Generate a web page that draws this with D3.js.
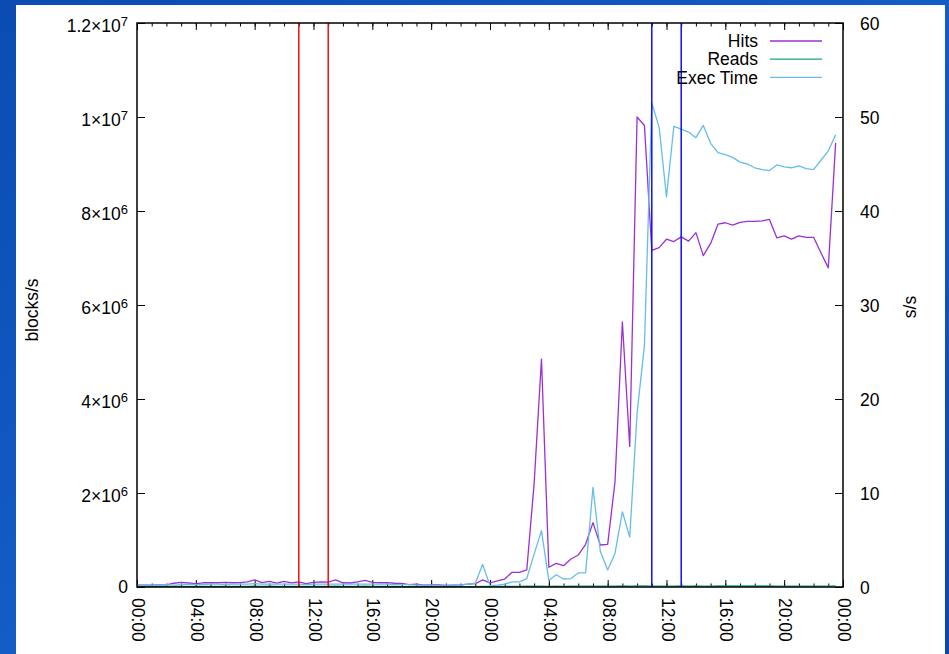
<!DOCTYPE html>
<meta charset="utf-8">
<style>
body { margin: 0; }
text { font-family: "Liberation Sans", Arial, sans-serif; fill: #000; }
.series { fill: none; stroke-width: 1.3px; stroke-linejoin: round; }
</style>
<svg width="949" height="654"></svg>
<script src="https://cdn.jsdelivr.net/npm/d3@7"></script>
<script>

// samples every 30 minutes over two days, starting 00:00
var stepMinutes = 30;

// Hits, blocks/s
var hits = [
  40e3, 40e3, 40e3, 45e3, 45e3, 80e3, 100e3, 85e3, 70e3, 90e3, 95e3, 90e3,
  100e3, 90e3, 95e3, 110e3, 150e3, 95e3, 120e3, 80e3, 120e3, 90e3, 110e3, 70e3,
  100e3, 110e3, 105e3, 150e3, 90e3, 85e3, 110e3, 140e3, 100e3, 90e3, 95e3, 80e3,
  75e3, 50e3, 60e3, 40e3, 45e3, 50e3, 30e3, 40e3, 45e3, 60e3, 70e3, 150e3,
  90e3, 128e3, 170e3, 313e3, 313e3, 362e3, 2.2e6, 4.85e6, 420e3, 504e3, 453e3, 596e3,
  680e3, 908e3, 1.37e6, 894e3, 908e3, 2.24e6, 5.64e6, 2.99e6, 1.0e7, 9.82e6, 7.16e6, 7.22e6,
  7.40e6, 7.35e6, 7.45e6, 7.36e6, 7.54e6, 7.05e6, 7.31e6, 7.72e6, 7.75e6, 7.70e6, 7.76e6, 7.78e6,
  7.78e6, 7.79e6, 7.82e6, 7.43e6, 7.47e6, 7.40e6, 7.47e6, 7.44e6, 7.44e6, 7.11e6, 6.79e6, 9.45e6
];

// Reads, blocks/s (stays on the baseline)
var reads = [
  12e3, 10e3, 11e3, 10e3, 12e3, 14e3, 15e3, 13e3, 12e3, 14e3, 15e3, 14e3,
  15e3, 14e3, 13e3, 15e3, 18e3, 14e3, 16e3, 12e3, 15e3, 13e3, 14e3, 11e3,
  13e3, 14e3, 14e3, 17e3, 13e3, 12e3, 14e3, 16e3, 13e3, 12e3, 12e3, 11e3,
  10e3, 9e3, 9e3, 8e3, 8e3, 9e3, 7e3, 8e3, 8e3, 9e3, 10e3, 15e3,
  11e3, 12e3, 13e3, 15e3, 15e3, 16e3, 18e3, 20e3, 15e3, 16e3, 15e3, 16e3,
  17e3, 18e3, 20e3, 17e3, 17e3, 19e3, 21e3, 18e3, 22e3, 22e3, 20e3, 20e3,
  20e3, 20e3, 21e3, 20e3, 21e3, 19e3, 20e3, 21e3, 21e3, 21e3, 21e3, 21e3,
  21e3, 21e3, 21e3, 20e3, 20e3, 20e3, 20e3, 20e3, 20e3, 19e3, 19e3, 22e3
];

// Exec Time, s/s (right axis)
var execTime = [
  0.2, 0.2, 0.2, 0.2, 0.25, 0.2, 0.25, 0.3, 0.25, 0.25, 0.3, 0.3,
  0.25, 0.3, 0.3, 0.3, 0.35, 0.3, 0.3, 0.3, 0.3, 0.3, 0.3, 0.25,
  0.3, 0.3, 0.3, 0.3, 0.3, 0.3, 0.3, 0.3, 0.3, 0.3, 0.3, 0.25,
  0.25, 0.25, 0.2, 0.2, 0.2, 0.2, 0.2, 0.2, 0.2, 0.3, 0.4, 2.4,
  0.15, 0.2, 0.3, 0.55, 0.55, 0.9, 3.5, 6.0, 0.7, 1.3, 0.85, 0.9,
  1.5, 1.5, 10.6, 3.8, 1.8, 3.6, 8.0, 5.3, 18.5, 25.7, 51.5, 48.9,
  41.5, 49.0, 48.7, 48.4, 47.8, 49.1, 47.2, 46.2, 46.0, 45.7, 45.2, 45.0,
  44.6, 44.4, 44.3, 44.9, 44.7, 44.6, 44.8, 44.5, 44.4, 45.4, 46.4, 48.1
];

// vertical marker lines, hours from start
var redMarks = [11, 13];
var blueMarks = [35, 37];

var yTicks = [0, 2e6, 4e6, 6e6, 8e6, 1e7, 1.2e7];
var y2Ticks = [0, 10, 20, 30, 40, 50, 60];

var seriesNames = ["Hits", "Reads", "Exec Time"];
var seriesColors = ["#9b30d6", "#14a57e", "#66bde8"];

var svg = d3.select("svg"),
    width = +svg.attr("width"),
    height = +svg.attr("height");

var margin = {left: 137, right: 843, top: 23, bottom: 587};
var fontSize = 17.5;

// slide background
var grad = svg.append("defs").append("linearGradient")
    .attr("id", "bg")
    .attr("x1", 0).attr("y1", 0).attr("x2", 1).attr("y2", 1);
grad.append("stop").attr("offset", 0).attr("stop-color", "#0a4cb2");
grad.append("stop").attr("offset", 0.5).attr("stop-color", "#135dc6");
grad.append("stop").attr("offset", 1).attr("stop-color", "#0a48aa");

svg.append("rect")
    .attr("width", width).attr("height", height)
    .attr("fill", "url(#bg)");
svg.append("rect")
    .attr("x", 16).attr("y", 5)
    .attr("width", 929).attr("height", height - 5)
    .attr("fill", "#fff");

var t0 = new Date(Date.UTC(2021, 0, 1, 0, 0));
var t1 = d3.utcHour.offset(t0, 48);

var x = d3.scaleUtc()
    .domain([t0, t1])
    .range([margin.left, margin.right]);

var y = d3.scaleLinear()
    .domain([0, 1.2e7])
    .range([margin.bottom, margin.top]);

var y2 = d3.scaleLinear()
    .domain([0, 60])
    .range([margin.bottom, margin.top]);

function timeAt(i) { return d3.utcMinute.offset(t0, i * stepMinutes); }

// ticks, all pointing inward
var majorTicks = x.ticks(d3.utcHour.every(4));
var minorTicks = x.ticks(d3.utcHour.every(1));

svg.append("g")
    .attr("transform", "translate(0," + margin.bottom + ")")
    .call(d3.axisBottom(x).tickValues(minorTicks).tickSize(-3.5).tickFormat(""))
    .call(function(g) { g.select(".domain").remove(); });
svg.append("g")
    .attr("transform", "translate(0," + margin.bottom + ")")
    .call(d3.axisBottom(x).tickValues(majorTicks).tickSize(-7).tickFormat(""))
    .call(function(g) { g.select(".domain").remove(); });
svg.append("g")
    .attr("transform", "translate(0," + margin.top + ")")
    .call(d3.axisTop(x).tickValues(minorTicks).tickSize(-3.5).tickFormat(""))
    .call(function(g) { g.select(".domain").remove(); });
svg.append("g")
    .attr("transform", "translate(0," + margin.top + ")")
    .call(d3.axisTop(x).tickValues(majorTicks).tickSize(-7).tickFormat(""))
    .call(function(g) { g.select(".domain").remove(); });

svg.append("g")
    .attr("transform", "translate(" + margin.left + ",0)")
    .call(d3.axisLeft(y).tickValues(yTicks).tickSize(-8).tickFormat(""))
    .call(function(g) { g.select(".domain").remove(); });
svg.append("g")
    .attr("transform", "translate(" + margin.right + ",0)")
    .call(d3.axisRight(y2).tickValues(y2Ticks).tickSize(-8).tickFormat(""))
    .call(function(g) { g.select(".domain").remove(); });

svg.selectAll(".tick line").attr("stroke", "#000").attr("stroke-width", 1);

// x labels, rotated
var fmt = d3.utcFormat("%H:%M");
svg.append("g").selectAll("text")
    .data(majorTicks)
    .join("text")
      .attr("transform", function(d) { return "translate(" + x(d) + ",598) rotate(90)"; })
      .attr("dy", "0.28em")
      .attr("font-size", fontSize)
      .text(function(d) { return fmt(d); });

// left labels in gnuplot style a×10^b
svg.append("g").selectAll("text")
    .data(yTicks)
    .join("text")
      .attr("x", margin.left - 9)
      .attr("y", function(d) { return y(d); })
      .attr("text-anchor", "end")
      .attr("font-size", fontSize)
      .each(function(d) {
        var t = d3.select(this);
        if (d === 0) {
          t.attr("dy", 6).text("0");
          return;
        }
        var e = Math.floor(Math.log10(d));
        var m = +(d / Math.pow(10, e)).toFixed(2);
        t.append("tspan").attr("dy", 9).text(m + "\u00d710");
        t.append("tspan").attr("dy", -6).attr("font-size", 13).text(e);
      });

svg.append("g").selectAll("text")
    .data(y2Ticks)
    .join("text")
      .attr("x", margin.right + 17)
      .attr("y", function(d) { return y2(d); })
      .attr("dy", 6.5)
      .attr("font-size", fontSize)
      .text(function(d) { return d; });

svg.append("text")
    .attr("transform", "translate(38,310) rotate(-90)")
    .attr("text-anchor", "middle")
    .attr("font-size", fontSize)
    .text("blocks/s");

svg.append("text")
    .attr("transform", "translate(916,307) rotate(-90)")
    .attr("text-anchor", "middle")
    .attr("font-size", fontSize)
    .text("s/s");

// series
var lineL = d3.line()
    .x(function(d, i) { return x(timeAt(i)); })
    .y(function(d) { return y(d); });
var lineR = d3.line()
    .x(function(d, i) { return x(timeAt(i)); })
    .y(function(d) { return y2(d); });

svg.append("path").attr("class", "series")
    .attr("stroke", seriesColors[0]).attr("d", lineL(hits));
svg.append("path").attr("class", "series")
    .attr("stroke", seriesColors[1]).attr("d", lineL(reads));
svg.append("path").attr("class", "series")
    .attr("stroke", seriesColors[2]).attr("d", lineR(execTime));

// markers
function marks(hours, color) {
  svg.append("g").selectAll("line")
      .data(hours)
      .join("line")
        .attr("x1", function(h) { return x(d3.utcHour.offset(t0, h)); })
        .attr("x2", function(h) { return x(d3.utcHour.offset(t0, h)); })
        .attr("y1", margin.top)
        .attr("y2", margin.bottom)
        .attr("stroke", color)
        .attr("stroke-width", 1.5);
}
marks(redMarks, "#ee1111");
marks(blueMarks, "#1010f0");

// legend
var legend = svg.append("g").selectAll("g")
    .data(seriesNames)
    .join("g")
      .attr("transform", function(d, i) { return "translate(0," + (41 + i * 18.2) + ")"; });
legend.append("text")
    .attr("x", 758)
    .attr("dy", 6.2)
    .attr("text-anchor", "end")
    .attr("font-size", fontSize)
    .text(function(d) { return d; });
legend.append("line")
    .attr("x1", 770).attr("x2", 822)
    .attr("stroke", function(d, i) { return seriesColors[i]; })
    .attr("stroke-width", 1.3);

// border
svg.append("rect")
    .attr("x", margin.left).attr("y", margin.top)
    .attr("width", margin.right - margin.left)
    .attr("height", margin.bottom - margin.top)
    .attr("fill", "none")
    .attr("stroke", "#000")
    .attr("stroke-width", 1.5);

</script>
